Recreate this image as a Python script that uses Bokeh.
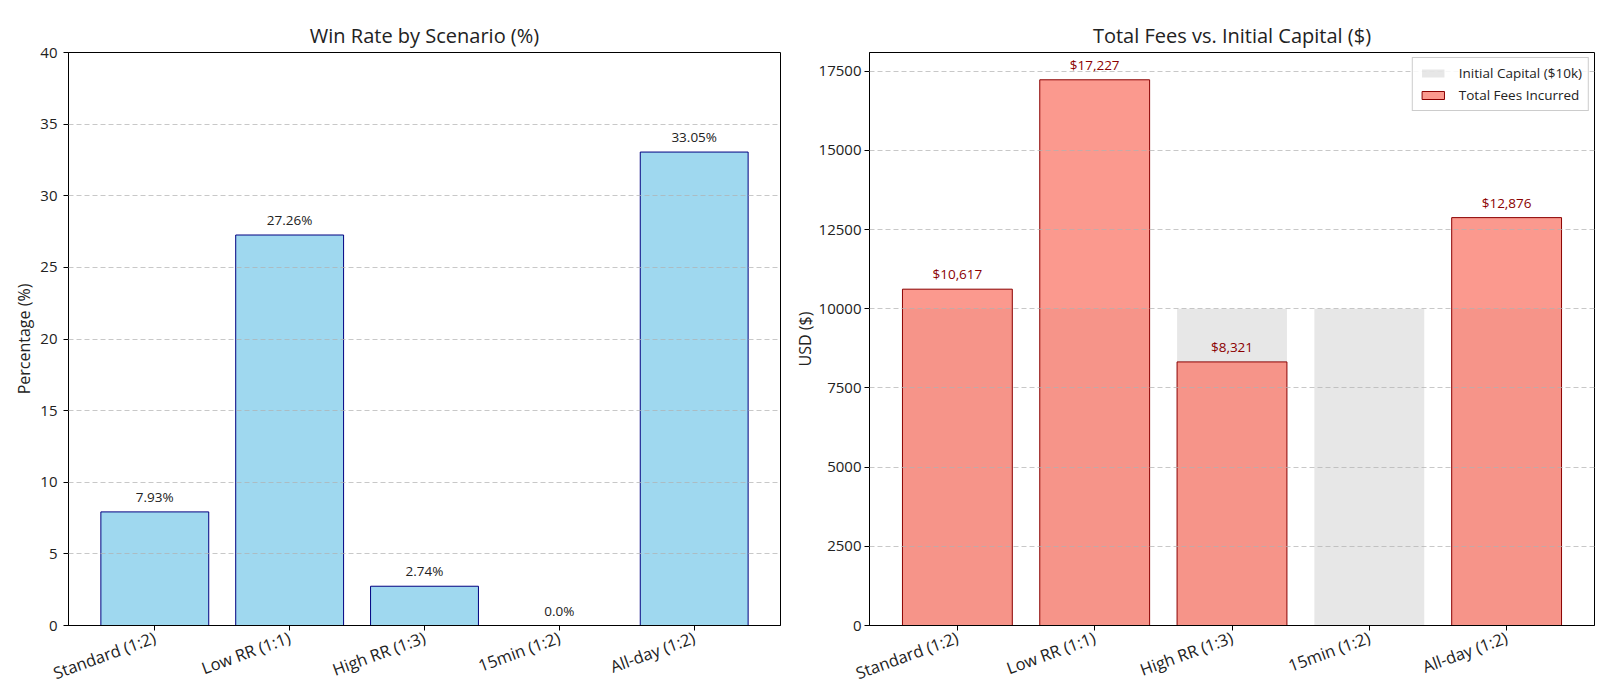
import math
from bokeh.plotting import figure
from bokeh.layouts import row
from bokeh.models import ColumnDataSource, FixedTicker, LabelSet, Range1d, Legend, LegendItem
from bokeh.core.properties import value
from bokeh.embed import file_html
from bokeh.resources import INLINE

scenarios = ["Standard (1:2)", "Low RR (1:1)", "High RR (1:3)", "15min (1:2)", "All-day (1:2)"]
win_rates = [7.93, 27.26, 2.74, 0.0, 33.05]
total_fees = [10617, 17227, 8321, 0, 12876]
initial_capital = [10000, 10000, 10000, 10000, 10000]
left_yticks = [0, 5, 10, 15, 20, 25, 30, 35, 40]
right_yticks = [0, 2500, 5000, 7500, 10000, 12500, 15000, 17500]

FONT = "Open Sans"
TXT = "#222222"
xs = list(range(len(scenarios)))


def style(p, yticks):
    p.title.text_font = FONT
    p.title.text_font_size = "20px"
    p.title.text_font_style = "normal"
    p.title.align = "center"
    p.title.text_color = TXT
    p.title.standoff = 8
    p.outline_line_color = "black"
    p.outline_line_width = 1
    p.outline_line_alpha = 1
    p.xgrid.visible = False
    p.ygrid.grid_line_color = "#b0b0b0"
    p.ygrid.grid_line_dash = "5 3"
    p.ygrid.grid_line_alpha = 0.7
    p.ygrid.level = "overlay"
    p.xaxis.ticker = FixedTicker(ticks=xs)
    p.xaxis.major_label_overrides = {i: s for i, s in enumerate(scenarios)}
    p.xaxis.major_label_orientation = math.radians(20)
    p.yaxis.ticker = FixedTicker(ticks=yticks)
    for ax in (p.xaxis, p.yaxis):
        ax.major_tick_in = 0
        ax.major_tick_out = 5
        ax.minor_tick_line_color = None
        ax.axis_line_color = "black"
        ax.major_tick_line_color = "black"
        ax.major_label_text_font = FONT
        ax.major_label_text_font_size = "15px"
        ax.major_label_text_color = TXT
        ax.axis_label_text_font = FONT
        ax.axis_label_text_font_size = "16px"
        ax.axis_label_text_font_style = "normal"
        ax.axis_label_text_color = TXT
        ax.axis_label_standoff = 2
    p.xaxis.major_label_text_font_size = "16.5px"
    p.yaxis.major_label_standoff = 6
    p.xaxis.major_label_standoff = 6


# Left: win rate
p1 = figure(frame_width=712, frame_height=573, title="Win Rate by Scenario (%)",
            x_range=Range1d(-0.64, 4.64), y_range=Range1d(0, 40),
            output_backend="svg", toolbar_location=None,
            min_border_left=68, min_border_right=10, min_border_top=52, min_border_bottom=60)
src1 = ColumnDataSource(dict(x=xs, top=win_rates, lab=[f"{v}%" for v in win_rates]))
p1.vbar(x="x", top="top", width=0.8, bottom=0, source=src1,
        fill_color="skyblue", fill_alpha=0.8, line_color="navy", line_width=1)
p1.add_layout(LabelSet(x="x", y="top", text="lab", source=src1, y_offset=6,
                       text_align="center", text_baseline="bottom",
                       text_font=value(FONT), text_font_size="13.5px", text_color=TXT))
style(p1, left_yticks)
p1.yaxis.axis_label = "Percentage (%)"

# Right: fees
ymax = max(total_fees) * 1.05
p2 = figure(frame_width=725, frame_height=573, title="Total Fees vs. Initial Capital ($)",
            x_range=Range1d(-0.64, 4.64), y_range=Range1d(0, ymax),
            output_backend="svg", toolbar_location=None,
            min_border_left=64, min_border_right=8, min_border_top=52, min_border_bottom=60)
src2 = ColumnDataSource(dict(x=xs, cap=initial_capital, fee=total_fees))
r_cap = p2.vbar(x="x", top="cap", width=0.8, bottom=0, source=src2,
                fill_color="lightgray", fill_alpha=0.55, line_color=None)
r_fee = p2.vbar(x="x", top="fee", width=0.8, bottom=0, source=src2,
                fill_color="salmon", fill_alpha=0.8, line_color="darkred", line_width=1)
lab_x = [x for x, v in zip(xs, total_fees) if v > 0]
lab_y = [v for v in total_fees if v > 0]
src2l = ColumnDataSource(dict(x=lab_x, y=lab_y, lab=[f"${v:,.0f}" for v in lab_y]))
p2.add_layout(LabelSet(x="x", y="y", text="lab", source=src2l, y_offset=6,
                       text_align="center", text_baseline="bottom",
                       text_font=value(FONT), text_font_size="13.5px", text_color="darkred"))
style(p2, right_yticks)
p2.yaxis.axis_label = "USD ($)"
p2.yaxis.major_label_standoff = 3
p2.yaxis.axis_label_standoff = 0

legend = Legend(items=[LegendItem(label="Initial Capital ($10k)", renderers=[r_cap]),
                       LegendItem(label="Total Fees Incurred", renderers=[r_fee])],
                location="top_right")
legend.label_text_font = FONT
legend.label_text_font_size = "13.5px"
legend.label_text_color = TXT
legend.border_line_color = "#cccccc"
legend.border_line_alpha = 1
legend.background_fill_alpha = 0.85
legend.glyph_width = 28
legend.glyph_height = 10
legend.spacing = 4
legend.padding = 6
legend.margin = 5
legend.label_standoff = 12
p2.add_layout(legend)

layout = row(p1, p2)
open("out.html", "w").write(file_html(layout, INLINE))
